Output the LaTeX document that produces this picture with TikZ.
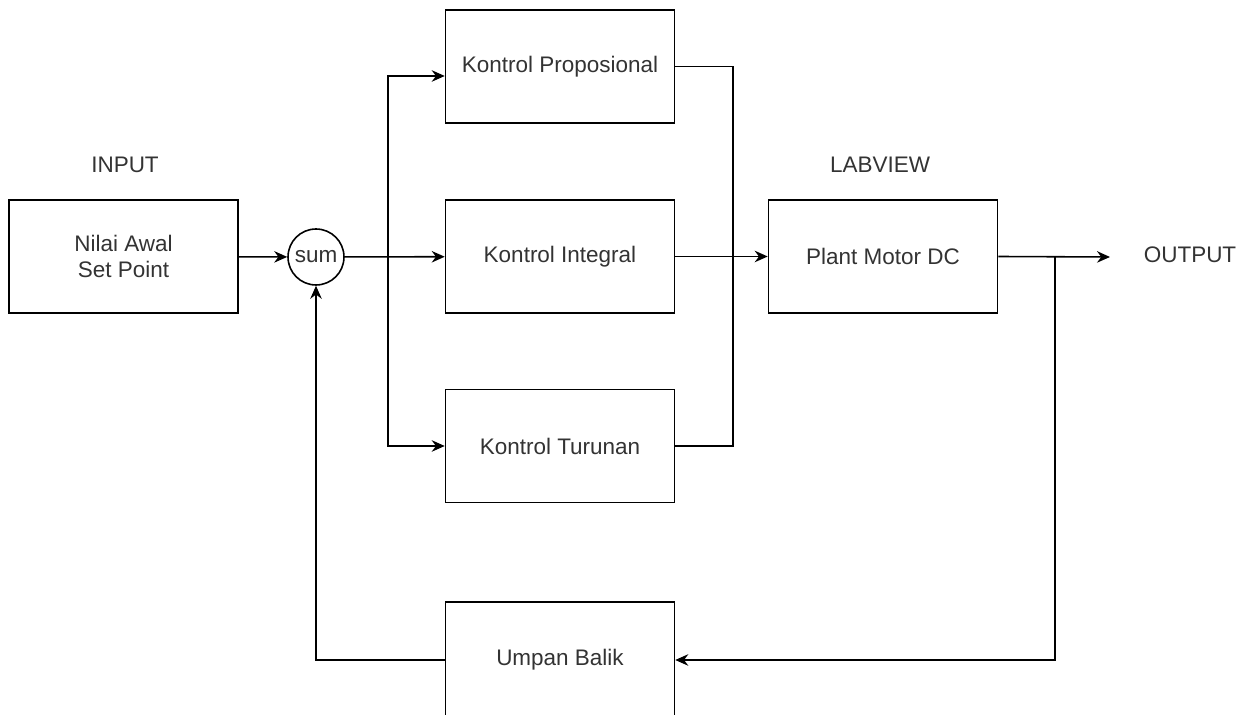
\documentclass[tikz,border=0pt]{standalone}
\usepackage{fontspec}
\setmainfont{Liberation Sans}
\usetikzlibrary{arrows.meta}
\begin{document}
\begin{tikzpicture}[x=0.02cm, y=-0.02cm, line width=0.9pt,
  every node/.style={font=\fontsize{12.8}{15}\selectfont, text=black!80},
  blok/.style={draw, minimum width=4.58cm, minimum height=2.26cm, align=center},
  arr/.style={-{Stealth[length=2.6mm, width=2.3mm]}}]

  \useasboundingbox (0,0) rectangle (1249,715);

  % Input and summing point
  \node[blok] (nilai) at (123.5,256.5) {Nilai Awal\\Set Point};
  \node at (125,165) {INPUT};
  \node[draw, circle, minimum size=1.12cm, inner sep=0pt] (sum) at (316,257) {sum};

  % PID branches
  \node[blok] (prop) at (560,66.5) {Kontrol Proposional};
  \node[blok] (integral) at (560,256.5) {Kontrol Integral};
  \node[blok] (turunan) at (560,446) {Kontrol Turunan};

  % Plant
  \node[blok] (plant) at (883,256.5) {Plant Motor DC};
  \node at (880,165) {LABVIEW};
  \node (out) at (1190,255) {OUTPUT};

  % Feedback
  \node[blok, minimum height=2.32cm] (balik) at (560,660) {Umpan Balik};

  \coordinate (split) at (388,257);
  \coordinate (merge) at (733,257);
  \coordinate (branch) at (1055,257);
  \coordinate (outend) at (1110,257);

  % Connectors
  \draw[arr] (nilai) -- (sum);
  \draw[arr] (sum) -- (integral);
  \draw[arr] (split) |- ([yshift=-0.19cm]prop.west);
  \draw[arr] (split) |- (turunan.west);
  \draw (prop.east) -| (merge);
  \draw (turunan.east) -| (merge);
  \draw[arr] (integral) -- (plant);
  \draw[arr] (plant.east) -- (outend);
  \draw[arr] (branch) |- (balik.east);
  \draw[arr] (balik.west) -| (sum.south);

\end{tikzpicture}
\end{document}
